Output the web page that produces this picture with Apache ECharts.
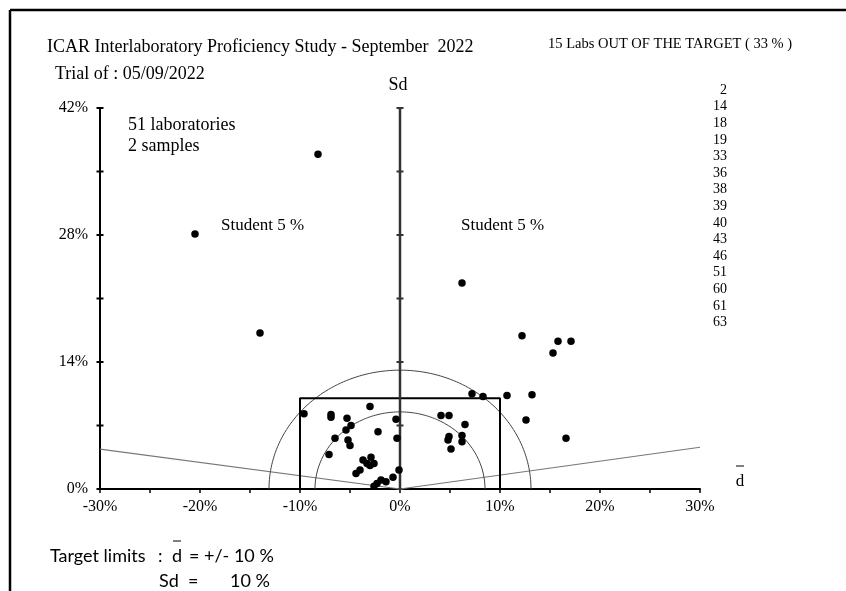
<!DOCTYPE html>
<html><head><meta charset="utf-8">
<script src="https://cdn.jsdelivr.net/npm/echarts@6/dist/echarts.min.js"></script>
<style>html,body{margin:0;padding:0;background:#fff}#c{width:846px;height:591px}</style>
</head><body><div id="c"></div><script>
// Lab results: mean deviation d (%) and Sd (%)
const labD = [-9.6,-6.9,-6.9,-3.0,-5.3,-0.4,-4.9,-5.4,-2.2,-6.5,-0.3,-5.2,-5.0,-7.1,-3.7,-2.9,-3.3,-3.0,-2.6,-4.0,-4.4,-0.1,-0.7,-1.4,-1.9,-2.3,-2.6,
  4.1,4.9,6.5,4.9,4.8,6.2,6.2,5.1,7.2,8.3,10.7,13.2,12.6,16.6,6.2,12.2,15.8,17.1,15.3,-8.2,-20.5,-14.0];
const labSd = [8.3,8.2,7.9,9.1,7.8,7.7,7.0,6.5,6.3,5.6,5.6,5.4,4.8,3.8,3.2,3.5,2.8,2.6,2.8,2.1,1.7,2.1,1.3,0.8,1.0,0.6,0.3,
  8.1,8.1,7.1,5.8,5.4,5.9,5.2,4.4,10.5,10.2,10.3,10.4,7.6,5.6,22.7,16.9,16.3,16.3,15.0,36.9,28.1,17.2];
const labsOut = ['2','14','18','19','33','36','38','39','40','43','46','51','60','61','63'];
const xTicks = [-30,-20,-10,0,10,20,30];
const xTickLabels = ['-30%','-20%','-10%','0%','10%','20%','30%'];
const yTicks = [0,14,28,42];
const yTickLabels = ['0%','14%','28%','42%'];
const sdAxisTicks = [0,7,14,21,28,35,42];
const targetD = 10, targetSd = 10;
const innerRadius = 8.5, outerRadius = 13.1;
const studentLeft = [[-30,4.4],[0,0]];
const studentRight = [[0,0],[30,4.6]];

function arc(r){ const pts=[]; for(let i=0;i<=120;i++){const a=Math.PI*i/120; pts.push([r*Math.cos(a), r*Math.sin(a)]);} return pts; }

const serif = '"Liberation Serif","DejaVu Serif",serif';
const chart = echarts.init(document.getElementById('c'), null, {renderer:'canvas'});
const pts = labD.map((d,i)=>[d, labSd[i]]);
function txt(text,x,y,size,opt){ return Object.assign({type:'text', x:x, y:y, style:Object.assign({text:text, fontFamily:serif, fontSize:size, fill:'#000', textAlign:'left', textVerticalAlign:'middle', verticalAlign:'middle'}, opt||{})}); }
const graphics = [
  {type:'line', shape:{x1:10,y1:10,x2:846,y2:10}, style:{stroke:'#000', lineWidth:2.5}},
  {type:'line', shape:{x1:10,y1:10,x2:10,y2:591}, style:{stroke:'#000', lineWidth:2.5}},
  txt('ICAR Interlaboratory Proficiency Study - September  2022', 47, 47, 18),
  txt('Trial of : 05/09/2022', 55, 74, 18),
  txt('15 Labs OUT OF THE TARGET ( 33 % )', 548, 44, 14.5),
  txt('Sd', 398, 85, 18, {textAlign:'center'}),
  txt('51 laboratories', 128, 125, 18),
  txt('2 samples', 128, 146, 18),
  txt('Student 5 %', 221, 226, 17),
  txt('Student 5 %', 461, 226, 17),
  txt('d', 740, 482, 17, {textAlign:'center'}),
  {type:'line', shape:{x1:736,y1:466,x2:744,y2:466}, style:{stroke:'#000', lineWidth:1}},
  txt('Target limits', 50, 556, 18, {fontFamily:'Lato'}),
  txt(':', 158, 556, 18, {fontFamily:'Lato'}),
  txt('d', 177, 556, 18, {fontFamily:'Lato', textAlign:'center'}),
  {type:'line', shape:{x1:173,y1:541,x2:181,y2:541}, style:{stroke:'#000', lineWidth:1}},
  txt('= +/- ' + targetD + ' %', 189, 556, 18, {fontFamily:'Lato'}),
  txt('Sd  =', 159, 581, 18, {fontFamily:'Lato'}),
  txt(targetSd + ' %', 230, 581, 18, {fontFamily:'Lato'})
];
labsOut.forEach((l,i)=>graphics.push(txt(l, 727, 90 + i*16.62, 14, {textAlign:'right'})));

const lineBase = {type:'line', showSymbol:false, symbol:'none', silent:true, animation:false};
chart.setOption({
  animation:false,
  backgroundColor:'#fff',
  grid:{left:100, right:146, top:108, bottom:102, containLabel:false, outerBoundsMode:'none'},
  xAxis:{type:'value', min:-30, max:30, interval:10,
    axisLine:{onZero:false, lineStyle:{color:'#000', width:2}},
    axisTick:{show:true, length:4, lineStyle:{color:'#000', width:1.5}},
    minorTick:{show:true, splitNumber:2, length:4, lineStyle:{color:'#000', width:1.5}},
    splitLine:{show:false},
    axisLabel:{margin:10, fontFamily:serif, fontSize:16, color:'#000', formatter:v=>xTickLabels[xTicks.indexOf(v)]}},
  yAxis:{type:'value', min:0, max:42, interval:14,
    axisLine:{show:true, onZero:false, lineStyle:{color:'#000', width:2}},
    axisTick:{show:false}, splitLine:{show:false},
    axisLabel:{margin:12, fontFamily:serif, fontSize:16, color:'#000', formatter:v=>yTickLabels[yTicks.indexOf(v)]}},
  graphic:graphics,
  series:[
    Object.assign({}, lineBase, {data:studentLeft, lineStyle:{color:'#777', width:1.2}}),
    Object.assign({}, lineBase, {data:studentRight, lineStyle:{color:'#777', width:1.2}}),
    Object.assign({}, lineBase, {data:arc(outerRadius), lineStyle:{color:'#444', width:1}}),
    Object.assign({}, lineBase, {data:arc(innerRadius), lineStyle:{color:'#444', width:1}}),
    Object.assign({}, lineBase, {data:[[-targetD,0],[-targetD,targetSd],[targetD,targetSd],[targetD,0]], lineStyle:{color:'#000', width:2}}),
    Object.assign({}, lineBase, {data:[[0,0],[0,42]], lineStyle:{color:'#333', width:2.5}}),
    {type:'scatter', silent:true, symbol:'rect', symbolSize:[7,2], itemStyle:{color:'#000', opacity:1}, data:sdAxisTicks.map(v=>[-30,v])},
    {type:'scatter', silent:true, symbol:'rect', symbolSize:[7,2], itemStyle:{color:'#333', opacity:1}, data:sdAxisTicks.map(v=>[0,v])},
    {type:'scatter', silent:true, symbol:'circle', symbolSize:7.5, itemStyle:{color:'#000', opacity:1}, data:pts, z:5}
  ]
});
</script></body></html>
